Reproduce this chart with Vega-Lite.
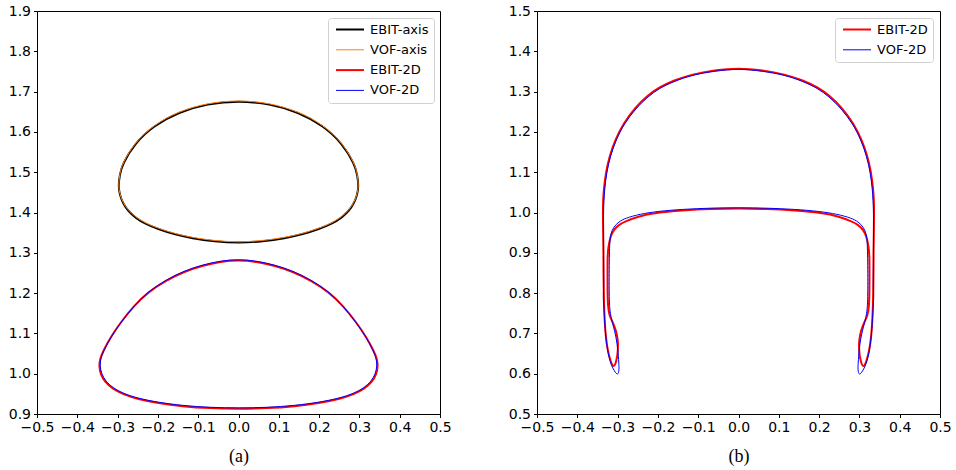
{
  "$schema": "https://vega.github.io/schema/vega-lite/v6.json",
  "background": "white",
  "padding": {"left": 7, "top": 3, "right": 5, "bottom": 5},
  "config": {
    "view": {"stroke": "#000", "strokeWidth": 1},
    "axis": {"domain": false, "grid": false, "tickColor": "#000", "tickSize": 3.5, "tickWidth": 1, "labelFont": "DejaVu Sans", "labelFontSize": 14, "labelColor": "#000", "labelPadding": 3, "labelOverlap": false, "labelFlush": false, "titleFont": "Liberation Serif", "titleFontSize": 18, "titleFontWeight": "normal", "titleColor": "#000", "titlePadding": 13},
    "legend": {"orient": "none", "legendY": 7, "padding": 5, "strokeColor": "#d0d0d0", "fillColor": "rgba(255,255,255,0.8)", "cornerRadius": 3, "labelFont": "DejaVu Sans", "labelFontSize": 13, "labelColor": "#000", "symbolType": "M-1,0H7", "symbolSize": 49, "labelOffset": 24, "rowPadding": 6.3, "title": null}
  },
  "datasets": {
    "ea": [
      {"i":0,"x":0,"y":1.677},{"i":1,"x":0.077,"y":1.67},{"i":2,"x":0.149,"y":1.649},{"i":3,"x":0.211,"y":1.615},{"i":4,"x":0.258,"y":1.571},{"i":5,"x":0.288,"y":1.52},{"i":6,"x":0.295,"y":1.493},{"i":7,"x":0.298,"y":1.465},{"i":8,"x":0.295,"y":1.445},{"i":9,"x":0.287,"y":1.423},{"i":10,"x":0.274,"y":1.404},{"i":11,"x":0.256,"y":1.387},{"i":12,"x":0.232,"y":1.372},{"i":13,"x":0.2,"y":1.359},{"i":14,"x":0.16,"y":1.346},{"i":15,"x":0.115,"y":1.336},{"i":16,"x":0.06,"y":1.328},{"i":17,"x":0,"y":1.324},
      {"i":18,"x":-0.06,"y":1.328},{"i":19,"x":-0.115,"y":1.336},{"i":20,"x":-0.16,"y":1.346},{"i":21,"x":-0.2,"y":1.359},{"i":22,"x":-0.232,"y":1.372},{"i":23,"x":-0.256,"y":1.387},{"i":24,"x":-0.274,"y":1.404},{"i":25,"x":-0.287,"y":1.423},{"i":26,"x":-0.295,"y":1.445},{"i":27,"x":-0.298,"y":1.465},{"i":28,"x":-0.295,"y":1.493},{"i":29,"x":-0.288,"y":1.52},{"i":30,"x":-0.258,"y":1.571},{"i":31,"x":-0.211,"y":1.615},{"i":32,"x":-0.149,"y":1.649},{"i":33,"x":-0.077,"y":1.67}
    ],
    "va": [
      {"i":0,"x":0,"y":1.679},{"i":1,"x":0.077,"y":1.672},{"i":2,"x":0.149,"y":1.651},{"i":3,"x":0.211,"y":1.617},{"i":4,"x":0.258,"y":1.573},{"i":5,"x":0.288,"y":1.522},{"i":6,"x":0.295,"y":1.495},{"i":7,"x":0.298,"y":1.467},{"i":8,"x":0.295,"y":1.447},{"i":9,"x":0.287,"y":1.425},{"i":10,"x":0.274,"y":1.406},{"i":11,"x":0.256,"y":1.389},{"i":12,"x":0.232,"y":1.374},{"i":13,"x":0.2,"y":1.361},{"i":14,"x":0.16,"y":1.348},{"i":15,"x":0.115,"y":1.338},{"i":16,"x":0.06,"y":1.33},{"i":17,"x":0,"y":1.326},
      {"i":18,"x":-0.06,"y":1.33},{"i":19,"x":-0.115,"y":1.338},{"i":20,"x":-0.16,"y":1.348},{"i":21,"x":-0.2,"y":1.361},{"i":22,"x":-0.232,"y":1.374},{"i":23,"x":-0.256,"y":1.389},{"i":24,"x":-0.274,"y":1.406},{"i":25,"x":-0.287,"y":1.425},{"i":26,"x":-0.295,"y":1.447},{"i":27,"x":-0.298,"y":1.467},{"i":28,"x":-0.295,"y":1.495},{"i":29,"x":-0.288,"y":1.522},{"i":30,"x":-0.258,"y":1.573},{"i":31,"x":-0.211,"y":1.617},{"i":32,"x":-0.149,"y":1.651},{"i":33,"x":-0.077,"y":1.672}
    ],
    "e2a": [
      {"i":0,"x":0,"y":1.282},{"i":1,"x":0.045,"y":1.278},{"i":2,"x":0.09,"y":1.268},{"i":3,"x":0.136,"y":1.253},{"i":4,"x":0.181,"y":1.231},{"i":5,"x":0.224,"y":1.203},{"i":6,"x":0.26,"y":1.168},{"i":7,"x":0.292,"y":1.128},{"i":8,"x":0.318,"y":1.09},{"i":9,"x":0.336,"y":1.056},{"i":10,"x":0.344,"y":1.036},{"i":11,"x":0.346,"y":1.018},{"i":12,"x":0.342,"y":0.998},{"i":13,"x":0.332,"y":0.98},{"i":14,"x":0.313,"y":0.963},{"i":15,"x":0.287,"y":0.949},{"i":16,"x":0.25,"y":0.937},{"i":17,"x":0.2,"y":0.927},{"i":18,"x":0.14,"y":0.919},{"i":19,"x":0.07,"y":0.914},{"i":20,"x":0,"y":0.913},
      {"i":21,"x":-0.07,"y":0.914},{"i":22,"x":-0.14,"y":0.919},{"i":23,"x":-0.2,"y":0.927},{"i":24,"x":-0.25,"y":0.937},{"i":25,"x":-0.287,"y":0.949},{"i":26,"x":-0.313,"y":0.963},{"i":27,"x":-0.332,"y":0.98},{"i":28,"x":-0.342,"y":0.998},{"i":29,"x":-0.346,"y":1.018},{"i":30,"x":-0.344,"y":1.036},{"i":31,"x":-0.336,"y":1.056},{"i":32,"x":-0.318,"y":1.09},{"i":33,"x":-0.292,"y":1.128},{"i":34,"x":-0.26,"y":1.168},{"i":35,"x":-0.224,"y":1.203},{"i":36,"x":-0.181,"y":1.231},{"i":37,"x":-0.136,"y":1.253},{"i":38,"x":-0.09,"y":1.268},{"i":39,"x":-0.045,"y":1.278}
    ],
    "v2a": [
      {"i":0,"x":0,"y":1.284},{"i":1,"x":0.045,"y":1.28},{"i":2,"x":0.09,"y":1.27},{"i":3,"x":0.135,"y":1.255},{"i":4,"x":0.18,"y":1.233},{"i":5,"x":0.222,"y":1.205},{"i":6,"x":0.258,"y":1.17},{"i":7,"x":0.29,"y":1.13},{"i":8,"x":0.316,"y":1.092},{"i":9,"x":0.334,"y":1.058},{"i":10,"x":0.342,"y":1.038},{"i":11,"x":0.344,"y":1.02},{"i":12,"x":0.34,"y":1.0},{"i":13,"x":0.33,"y":0.982},{"i":14,"x":0.312,"y":0.965},{"i":15,"x":0.286,"y":0.951},{"i":16,"x":0.25,"y":0.939},{"i":17,"x":0.2,"y":0.929},{"i":18,"x":0.14,"y":0.921},{"i":19,"x":0.07,"y":0.916},{"i":20,"x":0,"y":0.915},
      {"i":21,"x":-0.07,"y":0.916},{"i":22,"x":-0.14,"y":0.921},{"i":23,"x":-0.2,"y":0.929},{"i":24,"x":-0.25,"y":0.939},{"i":25,"x":-0.286,"y":0.951},{"i":26,"x":-0.312,"y":0.965},{"i":27,"x":-0.33,"y":0.982},{"i":28,"x":-0.34,"y":1.0},{"i":29,"x":-0.344,"y":1.02},{"i":30,"x":-0.342,"y":1.038},{"i":31,"x":-0.334,"y":1.058},{"i":32,"x":-0.316,"y":1.092},{"i":33,"x":-0.29,"y":1.13},{"i":34,"x":-0.258,"y":1.17},{"i":35,"x":-0.222,"y":1.205},{"i":36,"x":-0.18,"y":1.233},{"i":37,"x":-0.135,"y":1.255},{"i":38,"x":-0.09,"y":1.27},{"i":39,"x":-0.045,"y":1.28}
    ],
    "e2b": [
      {"i":0,"x":-0.31,"y":0.613},{"i":1,"x":-0.318,"y":0.632},{"i":2,"x":-0.325,"y":0.66},{"i":3,"x":-0.329,"y":0.69},{"i":4,"x":-0.332,"y":0.726},{"i":5,"x":-0.334,"y":0.78},{"i":6,"x":-0.335,"y":0.84},{"i":7,"x":-0.335,"y":0.9},{"i":8,"x":-0.336,"y":0.96},{"i":9,"x":-0.3365,"y":1.0},{"i":10,"x":-0.336,"y":1.03},{"i":11,"x":-0.334,"y":1.06},{"i":12,"x":-0.329,"y":1.1},{"i":13,"x":-0.32,"y":1.14},{"i":14,"x":-0.306,"y":1.18},{"i":15,"x":-0.286,"y":1.22},{"i":16,"x":-0.257,"y":1.26},{"i":17,"x":-0.226,"y":1.29},{"i":18,"x":-0.198,"y":1.31},{"i":19,"x":-0.16,"y":1.328},{"i":20,"x":-0.115,"y":1.343},{"i":21,"x":-0.06,"y":1.353},{"i":22,"x":0,"y":1.359},
      {"i":23,"x":0.06,"y":1.353},{"i":24,"x":0.115,"y":1.343},{"i":25,"x":0.16,"y":1.328},{"i":26,"x":0.198,"y":1.31},{"i":27,"x":0.226,"y":1.29},{"i":28,"x":0.257,"y":1.26},{"i":29,"x":0.286,"y":1.22},{"i":30,"x":0.306,"y":1.18},{"i":31,"x":0.32,"y":1.14},{"i":32,"x":0.329,"y":1.1},{"i":33,"x":0.334,"y":1.06},{"i":34,"x":0.336,"y":1.03},{"i":35,"x":0.3365,"y":1.0},{"i":36,"x":0.336,"y":0.96},{"i":37,"x":0.335,"y":0.9},{"i":38,"x":0.335,"y":0.84},{"i":39,"x":0.334,"y":0.78},{"i":40,"x":0.332,"y":0.726},{"i":41,"x":0.329,"y":0.69},{"i":42,"x":0.325,"y":0.66},{"i":43,"x":0.318,"y":0.632},{"i":44,"x":0.31,"y":0.613},
      {"i":45,"x":0.303,"y":0.63},{"i":46,"x":0.299,"y":0.655},{"i":47,"x":0.299,"y":0.684},{"i":48,"x":0.304,"y":0.708},{"i":49,"x":0.312,"y":0.728},{"i":50,"x":0.321,"y":0.745},{"i":51,"x":0.324,"y":0.77},{"i":52,"x":0.325,"y":0.8},{"i":53,"x":0.325,"y":0.85},{"i":54,"x":0.325,"y":0.891},{"i":55,"x":0.323,"y":0.915},{"i":56,"x":0.318,"y":0.94},{"i":57,"x":0.31,"y":0.957},{"i":58,"x":0.296,"y":0.97},{"i":59,"x":0.281,"y":0.978},{"i":60,"x":0.25,"y":0.99},{"i":61,"x":0.207,"y":0.999},{"i":62,"x":0.14,"y":1.005},{"i":63,"x":0.07,"y":1.009},{"i":64,"x":0,"y":1.01},
      {"i":65,"x":-0.07,"y":1.009},{"i":66,"x":-0.14,"y":1.005},{"i":67,"x":-0.207,"y":0.999},{"i":68,"x":-0.25,"y":0.99},{"i":69,"x":-0.281,"y":0.978},{"i":70,"x":-0.296,"y":0.97},{"i":71,"x":-0.31,"y":0.957},{"i":72,"x":-0.318,"y":0.94},{"i":73,"x":-0.323,"y":0.915},{"i":74,"x":-0.325,"y":0.891},{"i":75,"x":-0.325,"y":0.85},{"i":76,"x":-0.325,"y":0.8},{"i":77,"x":-0.324,"y":0.77},{"i":78,"x":-0.321,"y":0.745},{"i":79,"x":-0.312,"y":0.728},{"i":80,"x":-0.304,"y":0.708},{"i":81,"x":-0.299,"y":0.684},{"i":82,"x":-0.299,"y":0.655},{"i":83,"x":-0.303,"y":0.63}
    ],
    "v2b": [
      {"i":0,"x":-0.299,"y":0.595},{"i":1,"x":-0.308,"y":0.606},{"i":2,"x":-0.316,"y":0.622},{"i":3,"x":-0.322,"y":0.643},{"i":4,"x":-0.327,"y":0.67},{"i":5,"x":-0.331,"y":0.709},{"i":6,"x":-0.334,"y":0.765},{"i":7,"x":-0.336,"y":0.79},{"i":8,"x":-0.334,"y":0.82},{"i":9,"x":-0.335,"y":0.88},{"i":10,"x":-0.335,"y":0.94},{"i":11,"x":-0.335,"y":1.0},{"i":12,"x":-0.334,"y":1.03},{"i":13,"x":-0.332,"y":1.06},{"i":14,"x":-0.327,"y":1.1},{"i":15,"x":-0.318,"y":1.14},{"i":16,"x":-0.304,"y":1.18},{"i":17,"x":-0.284,"y":1.22},{"i":18,"x":-0.255,"y":1.258},{"i":19,"x":-0.224,"y":1.288},{"i":20,"x":-0.197,"y":1.308},{"i":21,"x":-0.159,"y":1.326},{"i":22,"x":-0.115,"y":1.341},{"i":23,"x":-0.06,"y":1.351},{"i":24,"x":0,"y":1.357},
      {"i":25,"x":0.06,"y":1.351},{"i":26,"x":0.115,"y":1.341},{"i":27,"x":0.159,"y":1.326},{"i":28,"x":0.197,"y":1.308},{"i":29,"x":0.224,"y":1.288},{"i":30,"x":0.255,"y":1.258},{"i":31,"x":0.284,"y":1.22},{"i":32,"x":0.304,"y":1.18},{"i":33,"x":0.318,"y":1.14},{"i":34,"x":0.327,"y":1.1},{"i":35,"x":0.332,"y":1.06},{"i":36,"x":0.334,"y":1.03},{"i":37,"x":0.335,"y":1.0},{"i":38,"x":0.335,"y":0.94},{"i":39,"x":0.335,"y":0.88},{"i":40,"x":0.334,"y":0.82},{"i":41,"x":0.336,"y":0.79},{"i":42,"x":0.334,"y":0.765},{"i":43,"x":0.331,"y":0.709},{"i":44,"x":0.327,"y":0.67},{"i":45,"x":0.322,"y":0.643},{"i":46,"x":0.316,"y":0.622},{"i":47,"x":0.308,"y":0.606},{"i":48,"x":0.299,"y":0.595},
      {"i":49,"x":0.296,"y":0.61},{"i":50,"x":0.297,"y":0.626},{"i":51,"x":0.299,"y":0.66},{"i":52,"x":0.304,"y":0.692},{"i":53,"x":0.31,"y":0.716},{"i":54,"x":0.316,"y":0.738},{"i":55,"x":0.321,"y":0.767},{"i":56,"x":0.321,"y":0.85},{"i":57,"x":0.32,"y":0.925},{"i":58,"x":0.317,"y":0.948},{"i":59,"x":0.31,"y":0.964},{"i":60,"x":0.297,"y":0.977},{"i":61,"x":0.281,"y":0.986},{"i":62,"x":0.245,"y":0.996},{"i":63,"x":0.2,"y":1.003},{"i":64,"x":0.14,"y":1.008},{"i":65,"x":0.07,"y":1.011},{"i":66,"x":0,"y":1.012},
      {"i":67,"x":-0.07,"y":1.011},{"i":68,"x":-0.14,"y":1.008},{"i":69,"x":-0.2,"y":1.003},{"i":70,"x":-0.245,"y":0.996},{"i":71,"x":-0.281,"y":0.986},{"i":72,"x":-0.297,"y":0.977},{"i":73,"x":-0.31,"y":0.964},{"i":74,"x":-0.317,"y":0.948},{"i":75,"x":-0.32,"y":0.925},{"i":76,"x":-0.321,"y":0.85},{"i":77,"x":-0.321,"y":0.767},{"i":78,"x":-0.316,"y":0.738},{"i":79,"x":-0.31,"y":0.716},{"i":80,"x":-0.304,"y":0.692},{"i":81,"x":-0.299,"y":0.66},{"i":82,"x":-0.297,"y":0.626},{"i":83,"x":-0.296,"y":0.61}
    ]
  },
  "hconcat": [
    {
      "width": 403, "height": 403,
      "encoding": {
        "x": {"field": "x", "type": "quantitative", "scale": {"domain": [-0.5, 0.5], "nice": false, "zero": false}, "axis": {"values": [-0.5,-0.4,-0.3,-0.2,-0.1,0,0.1,0.2,0.3,0.4,0.5], "title": "(a)", "labelExpr": "replace(format(datum.value, '.1f'), '-', '−')"}},
        "y": {"field": "y", "type": "quantitative", "scale": {"domain": [0.9, 1.9], "nice": false, "zero": false}, "axis": {"values": [0.9,1.0,1.1,1.2,1.3,1.4,1.5,1.6,1.7,1.8,1.9], "title": null, "labelExpr": "format(datum.value, '.1f')"}},
        "order": {"field": "i", "type": "quantitative"}
      },
      "layer": [
        {"data": {"name": "ea"}, "mark": {"type": "line", "interpolate": "basis-closed", "strokeWidth": 2}, "encoding": {"color": {"datum": "EBIT-axis", "type": "nominal", "scale": {"domain": ["EBIT-axis", "VOF-axis", "EBIT-2D", "VOF-2D"], "range": ["#000000", "#ff7f0e", "#ff0000", "#0000ff"]}, "legend": {"legendX": 291, "encode": {"symbols": {"update": {"strokeWidth": {"signal": "datum.value == 'EBIT-axis' || datum.value == 'EBIT-2D' ? 2 : 1"}}}}}}}},
        {"data": {"name": "va"}, "mark": {"type": "line", "interpolate": "basis-closed", "strokeWidth": 1}, "encoding": {"color": {"datum": "VOF-axis", "type": "nominal"}}},
        {"data": {"name": "e2a"}, "mark": {"type": "line", "interpolate": "basis-closed", "strokeWidth": 2}, "encoding": {"color": {"datum": "EBIT-2D", "type": "nominal"}}},
        {"data": {"name": "v2a"}, "mark": {"type": "line", "interpolate": "basis-closed", "strokeWidth": 1}, "encoding": {"color": {"datum": "VOF-2D", "type": "nominal"}}}
      ]
    },
    {
      "width": 403, "height": 403,
      "encoding": {
        "x": {"field": "x", "type": "quantitative", "scale": {"domain": [-0.5, 0.5], "nice": false, "zero": false}, "axis": {"values": [-0.5,-0.4,-0.3,-0.2,-0.1,0,0.1,0.2,0.3,0.4,0.5], "title": "(b)", "labelExpr": "replace(format(datum.value, '.1f'), '-', '−')"}},
        "y": {"field": "y", "type": "quantitative", "scale": {"domain": [0.5, 1.5], "nice": false, "zero": false}, "axis": {"values": [0.5,0.6,0.7,0.8,0.9,1.0,1.1,1.2,1.3,1.4,1.5], "title": null, "labelExpr": "format(datum.value, '.1f')"}},
        "order": {"field": "i", "type": "quantitative"}
      },
      "layer": [
        {"data": {"name": "e2b"}, "mark": {"type": "line", "interpolate": "basis-closed", "strokeWidth": 2}, "encoding": {"color": {"datum": "EBIT-2D", "type": "nominal", "scale": {"domain": ["EBIT-2D", "VOF-2D"], "range": ["#ff0000", "#0000ff"]}, "legend": {"legendX": 298, "encode": {"symbols": {"update": {"strokeWidth": {"signal": "datum.value == 'EBIT-2D' ? 2 : 1"}}}}}}}},
        {"data": {"name": "v2b"}, "mark": {"type": "line", "interpolate": "basis-closed", "strokeWidth": 1}, "encoding": {"color": {"datum": "VOF-2D", "type": "nominal"}}}
      ]
    }
  ],
  "spacing": 55,
  "resolve": {"scale": {"color": "independent"}, "legend": {"color": "independent"}}
}
